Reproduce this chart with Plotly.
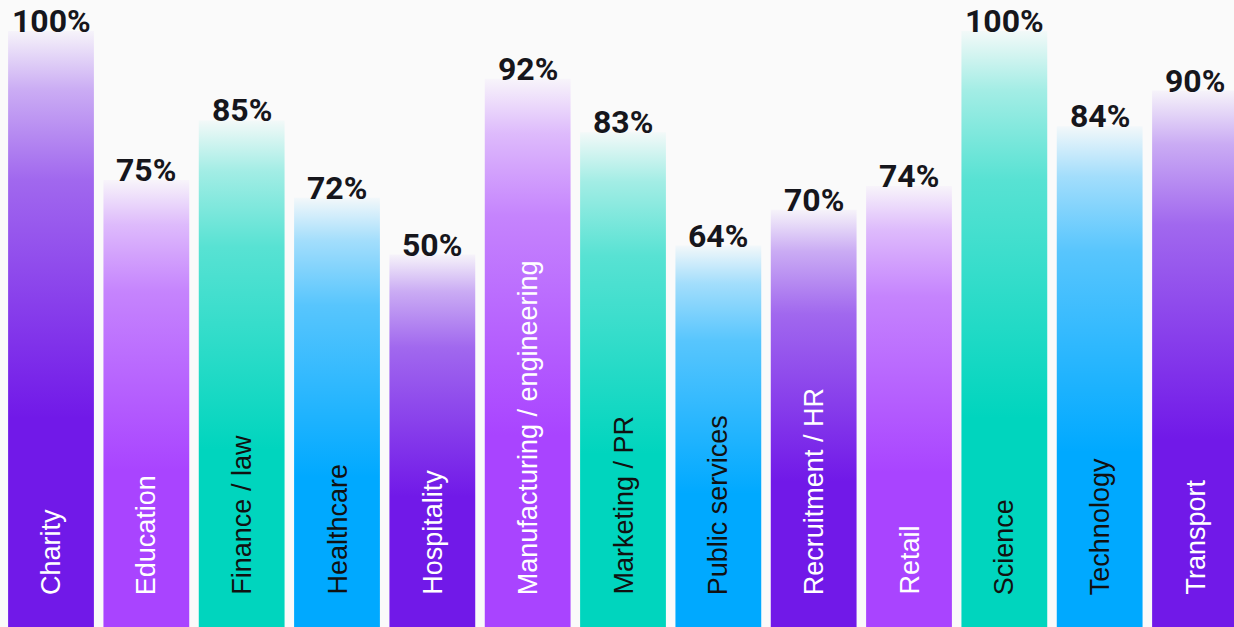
import plotly.graph_objects as go

categories = ["Charity", "Education", "Finance / law", "Healthcare", "Hospitality",
              "Manufacturing / engineering", "Marketing / PR", "Public services",
              "Recruitment / HR", "Retail", "Science", "Technology", "Transport"]
bar_heights = [100, 75, 85, 72, 62.5, 92, 83, 64, 70, 74, 100, 84, 90]
value_labels = ["100%", "75%", "85%", "72%", "50%", "92%", "83%", "64%", "70%",
                "74%", "100%", "84%", "90%"]

palette = [(113, 25, 232), (169, 68, 255), (0, 213, 190), (0, 169, 255)]
text_colors = ["#FFFFFF", "#FFFFFF", "#111111", "#111111"]

HALF = 0.45
fig = go.Figure()
for i, (cat, h) in enumerate(zip(categories, bar_heights)):
    r, g, b = palette[i % 4]
    cs = [[0.0, f"rgba({r},{g},{b},1)"], [0.35, f"rgba({r},{g},{b},1)"],
          [0.75, f"rgba({r},{g},{b},0.65)"], [0.9, f"rgba({r},{g},{b},0.35)"],
          [1.0, f"rgba({r},{g},{b},0.03)"]]
    fig.add_trace(go.Scatter(
        x=[i - HALF, i - HALF, i + HALF, i + HALF, i - HALF],
        y=[0, h, h, 0, 0],
        mode="lines", line=dict(width=0), fill="toself",
        fillgradient=dict(type="vertical", colorscale=cs, start=0, stop=h),
        hoverinfo="skip", showlegend=False))
    fig.add_annotation(x=i, y=h, xref="x", yref="y", text=value_labels[i],
                       showarrow=False, xanchor="center", yanchor="bottom", yshift=-11,
                       font=dict(family="Roboto", size=32, color="#16161C", weight="bold"))
    fig.add_annotation(x=i, y=0, xref="x", yref="y", text=cat, textangle=-90,
                       showarrow=False, xanchor="center", yanchor="bottom", yshift=30,
                       font=dict(family="Liberation Sans", size=27, color=text_colors[i % 4]))

fig.update_layout(
    width=1234, height=627, margin=dict(l=0, r=0, t=0, b=0),
    paper_bgcolor="#FAFAFA", plot_bgcolor="#FAFAFA",
    xaxis=dict(range=[-0.535, 12.409], visible=False, fixedrange=True),
    yaxis=dict(range=[0, 105.2], visible=False, fixedrange=True),
)
fig.write_html("out.html")
